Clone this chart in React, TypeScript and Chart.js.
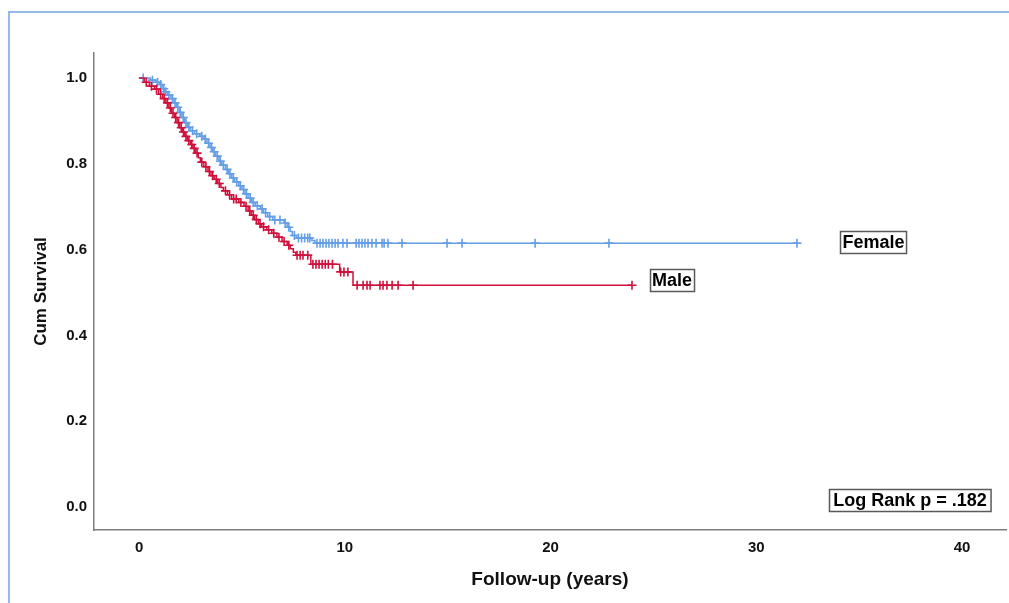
import React, { useEffect, useRef } from "react";
import { Chart, registerables } from "chart.js";

Chart.register(...registerables);

// Kaplan–Meier estimates: event times (years) and survival right after each event
const femaleEventTimes = [0, 0.55, 0.8, 1.0, 1.12, 1.25, 1.38, 1.55, 1.7, 1.82, 1.95, 2.08, 2.22, 2.35, 2.5, 2.7, 2.95, 3.15, 3.3, 3.45, 3.58, 3.72, 3.88, 4.02, 4.2, 4.35, 4.5, 4.65, 4.85, 5.0, 5.15, 5.3, 5.48, 5.65, 5.9, 6.05, 6.25, 6.5, 7.05, 7.2, 7.35, 7.45, 7.65, 8.4, 8.55];
const femaleSurvival = [1.0, 0.995, 0.99, 0.985, 0.975, 0.968, 0.96, 0.952, 0.942, 0.932, 0.92, 0.908, 0.896, 0.885, 0.877, 0.87, 0.864, 0.858, 0.848, 0.838, 0.828, 0.818, 0.806, 0.797, 0.787, 0.777, 0.767, 0.758, 0.749, 0.74, 0.73, 0.72, 0.71, 0.702, 0.695, 0.686, 0.677, 0.669, 0.662, 0.652, 0.642, 0.633, 0.627, 0.621, 0.615];
const femaleCensored = [0.2, 0.65, 0.9, 1.05, 1.2, 1.3, 1.45, 1.62, 1.75, 1.88, 2.0, 2.15, 2.28, 2.42, 2.6, 2.8, 3.05, 3.22, 3.38, 3.52, 3.65, 3.8, 3.95, 4.1, 4.28, 4.42, 4.58, 4.75, 4.92, 5.08, 5.22, 5.4, 5.55, 5.75, 5.98, 6.15, 6.35, 6.6, 6.85, 7.1, 7.28, 7.55, 7.75, 7.9, 8.05, 8.2, 8.3, 8.65, 8.8, 8.94, 9.09, 9.23, 9.38, 9.53, 9.67, 9.91, 10.11, 10.55, 10.69, 10.84, 10.98, 11.13, 11.32, 11.52, 11.81, 11.91, 12.1, 12.78, 14.97, 15.7, 19.25, 22.84, 31.98];

const maleEventTimes = [0, 0.25, 0.5, 0.75, 0.95, 1.15, 1.3, 1.45, 1.58, 1.72, 1.85, 1.98, 2.1, 2.22, 2.35, 2.5, 2.62, 2.75, 2.88, 2.98, 3.15, 3.35, 3.5, 3.65, 3.82, 3.98, 4.1, 4.3, 4.5, 4.85, 5.1, 5.3, 5.45, 5.62, 5.8, 5.95, 6.2, 6.45, 6.7, 6.95, 7.2, 7.35, 7.5, 7.62, 8.35, 9.75, 10.4];
const maleSurvival = [1.0, 0.99, 0.981, 0.974, 0.962, 0.952, 0.942, 0.93, 0.918, 0.908, 0.896, 0.884, 0.874, 0.864, 0.854, 0.845, 0.836, 0.825, 0.814, 0.804, 0.793, 0.782, 0.772, 0.764, 0.754, 0.745, 0.737, 0.728, 0.718, 0.71, 0.701, 0.69, 0.68, 0.67, 0.66, 0.653, 0.646, 0.638, 0.629, 0.619, 0.61, 0.602, 0.594, 0.587, 0.566, 0.548, 0.517];
const maleCensored = [0.35, 0.6, 0.85, 1.05, 1.22, 1.38, 1.52, 1.65, 1.78, 1.92, 2.05, 2.16, 2.28, 2.42, 2.56, 2.68, 2.82, 3.05, 3.25, 3.42, 3.58, 3.75, 3.9, 4.2, 4.4, 4.6, 4.72, 4.95, 5.2, 5.38, 5.55, 5.7, 5.88, 6.05, 6.3, 6.55, 6.8, 7.05, 7.28, 7.68, 7.83, 7.97, 8.2, 8.45, 8.6, 8.75, 8.9, 9.05, 9.2, 9.4, 9.8, 9.96, 10.15, 10.6, 10.89, 11.08, 11.23, 11.71, 11.86, 12.05, 12.3, 12.59, 13.32, 23.96];

const xTickValues = [0, 10, 20, 30, 40];
const yTickValues = [0, 0.2, 0.4, 0.6, 0.8, 1.0];

const FEMALE_COLOR = "rgb(100,158,230)";
const MALE_COLOR = "rgb(208,16,58)";
const FONT = '"Liberation Sans", Arial, sans-serif';

// survival value of a step function at time t
function survivalAt(times: number[], surv: number[], t: number): number {
  let s = surv[0];
  for (let i = 0; i < times.length; i++) {
    if (times[i] <= t) s = surv[i];
  }
  return s;
}

function stepLine(times: number[], surv: number[], censored: number[]) {
  const pts = times.map((t, i) => ({ x: t, y: surv[i] }));
  const lastFollowUp = Math.max(...censored);
  pts.push({ x: lastFollowUp, y: surv[surv.length - 1] });
  return pts;
}

function censorMarks(times: number[], surv: number[], censored: number[]) {
  return censored.map((t) => ({ x: t, y: survivalAt(times, surv, t) }));
}

function drawBoxedText(ctx: CanvasRenderingContext2D, text: string, cx: number, cy: number, padX: number) {
  ctx.save();
  ctx.font = `bold 18px ${FONT}`;
  const w = ctx.measureText(text).width + padX * 2;
  const h = 22;
  const x = Math.round(cx - w / 2) + 0.5;
  const y = Math.round(cy - h / 2) + 0.5;
  ctx.fillStyle = "#ffffff";
  ctx.fillRect(x, y, w, h);
  ctx.strokeStyle = "#5a5a5a";
  ctx.lineWidth = 1.5;
  ctx.strokeRect(x, y, w, h);
  ctx.fillStyle = "#000000";
  ctx.textAlign = "center";
  ctx.textBaseline = "middle";
  ctx.fillText(text, cx, cy + 1);
  ctx.restore();
}

const labelBoxes = {
  id: "labelBoxes",
  afterDraw(chart: any) {
    const ctx = chart.ctx as CanvasRenderingContext2D;
    drawBoxedText(ctx, "Female", 873.5, 242, 2);
    drawBoxedText(ctx, "Male", 672, 280, 2);
    drawBoxedText(ctx, "Log Rank p = .182", 910, 500, 4);
  },
};

export default function App() {
  const canvasRef = useRef<HTMLCanvasElement | null>(null);

  useEffect(() => {
    if (!canvasRef.current) return;
    const axisColor = "#7d7d7d";
    const chart = new Chart(canvasRef.current, {
      type: "line",
      data: {
        datasets: [
          {
            label: "Male",
            data: stepLine(maleEventTimes, maleSurvival, maleCensored),
            borderColor: MALE_COLOR,
            borderWidth: 1.5,
            stepped: true,
            pointRadius: 0,
            fill: false,
          },
          {
            label: "Male censored",
            data: censorMarks(maleEventTimes, maleSurvival, maleCensored),
            showLine: false,
            pointStyle: "cross",
            pointRadius: 4.5,
            pointBorderWidth: 1.6,
            pointBorderColor: MALE_COLOR,
            borderColor: MALE_COLOR,
          },
          {
            label: "Female",
            data: stepLine(femaleEventTimes, femaleSurvival, femaleCensored),
            borderColor: FEMALE_COLOR,
            borderWidth: 1.5,
            stepped: true,
            pointRadius: 0,
            fill: false,
          },
          {
            label: "Female censored",
            data: censorMarks(femaleEventTimes, femaleSurvival, femaleCensored),
            showLine: false,
            pointStyle: "cross",
            pointRadius: 4.5,
            pointBorderWidth: 1.6,
            pointBorderColor: FEMALE_COLOR,
            borderColor: FEMALE_COLOR,
          },
        ],
      },
      options: {
        responsive: false,
        animation: false,
        events: [],
        layout: { autoPadding: false, padding: { top: 53, right: 3, left: 0, bottom: 0 } },
        plugins: {
          legend: { display: false },
          tooltip: { enabled: false },
        },
        scales: {
          x: {
            type: "linear",
            min: -2.19,
            max: 42.14,
            afterBuildTicks: (s: any) => {
              s.ticks = xTickValues.map((v) => ({ value: v }));
            },
            afterFit: (s: any) => {
              s.height = 73;
              s.paddingLeft = 0;
              s.paddingRight = 0;
            },
            grid: { display: false, drawTicks: false },
            border: { display: true, color: axisColor, width: 1.5 },
            ticks: {
              padding: 9,
              color: "#111",
              font: { family: FONT, size: 15, weight: "bold" },
              callback: (v: any) => String(v),
            },
            title: {
              display: true,
              text: "Follow-up (years)",
              color: "#111",
              font: { family: FONT, size: 19, weight: "bold" },
              padding: { top: 0, bottom: 12 },
            },
          },
          y: {
            type: "linear",
            min: -0.0536,
            max: 1.0583,
            afterBuildTicks: (s: any) => {
              s.ticks = yTickValues.map((v) => ({ value: v }));
            },
            afterFit: (s: any) => {
              s.width = 94;
              s.paddingTop = 0;
              s.paddingBottom = 0;
            },
            grid: { display: false, drawTicks: false },
            border: { display: true, color: axisColor, width: 1.5 },
            ticks: {
              padding: 7,
              color: "#111",
              font: { family: FONT, size: 15, weight: "bold" },
              callback: (v: any) => Number(v).toFixed(1),
            },
            title: {
              display: true,
              text: "Cum Survival",
              color: "#111",
              font: { family: FONT, size: 17, weight: "bold" },
              padding: { top: 31, bottom: 0 },
            },
          },
        },
      },
      plugins: [labelBoxes],
    });
    return () => chart.destroy();
  }, []);

  return (
    <div
      style={{
        position: "absolute",
        left: 0,
        top: 0,
        width: 1009,
        height: 603,
        overflow: "hidden",
        background: "#ffffff",
      }}
    >
      <div
        style={{
          position: "absolute",
          left: 8,
          top: 11,
          width: 1100,
          height: 700,
          border: "2px solid rgb(150,186,232)",
          boxSizing: "border-box",
        }}
      />
      <canvas
        ref={canvasRef}
        width={1009}
        height={603}
        style={{ position: "absolute", left: 0, top: 0, width: 1009, height: 603 }}
      />
    </div>
  );
}
